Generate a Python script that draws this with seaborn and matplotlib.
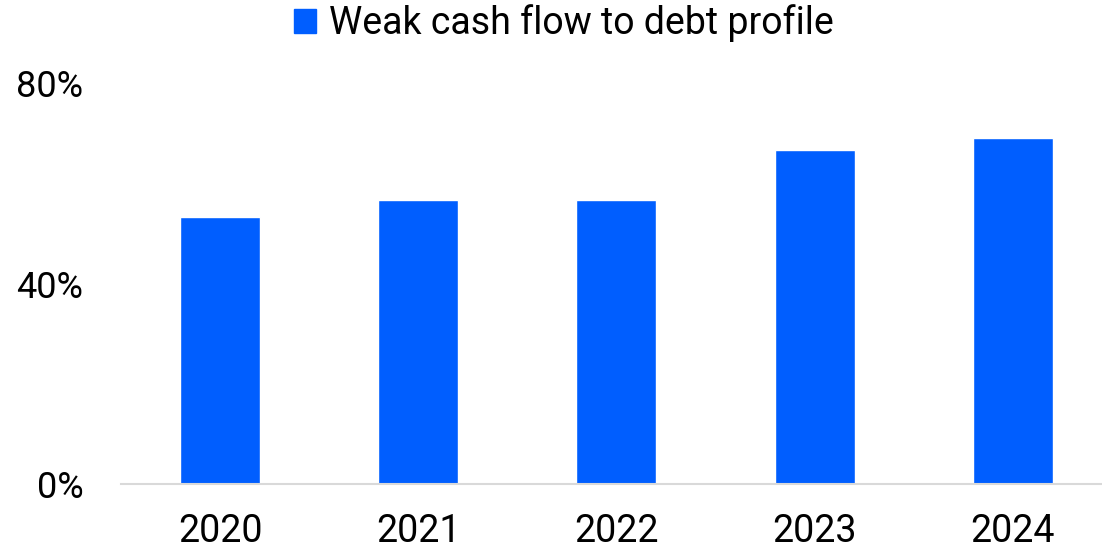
import matplotlib
matplotlib.use("Agg")
import matplotlib.pyplot as plt
import matplotlib.patches as mpatches
from matplotlib.ticker import FuncFormatter
import seaborn as sns
import pandas as pd

years = ["2020", "2021", "2022", "2023", "2024"]
weak_share = [53.3, 56.7, 56.7, 66.6, 69.0]
series_name = "Weak cash flow to debt profile"
bar_color = "#005EFF"

sns.set_theme(style="white")
plt.rcParams["font.family"] = ["Roboto", "DejaVu Sans"]
plt.rcParams["text.color"] = "#000000"

df = pd.DataFrame({"year": years, "share": weak_share})

fig = plt.figure(figsize=(11.02, 5.48), dpi=100)
ax = fig.add_axes([121 / 1102, (548 - 484) / 548, 1 - 121 / 1102, (484 - 83) / 548])

sns.barplot(data=df, x="year", y="share", color=bar_color, width=0.404,
            saturation=1, ax=ax)

ax.set_ylim(0, 80)
ax.set_xlim(-0.5, 4.45)
ax.set_yticks([0, 40, 80])
ax.yaxis.set_major_formatter(FuncFormatter(lambda v, _: f"{v:.0f}%"))
ax.set_xlabel("")
ax.set_ylabel("")

for side in ["top", "right", "left"]:
    ax.spines[side].set_visible(False)
ax.spines["bottom"].set_color("#D9D9D9")
ax.spines["bottom"].set_linewidth(1.5)

ax.tick_params(axis="y", length=0, pad=27, labelsize=26, labelcolor="#000000")
ax.tick_params(axis="x", length=0, pad=21, labelsize=27, labelcolor="#000000")

handle = mpatches.Patch(color=bar_color, label=series_name)
leg = fig.legend(handles=[handle], loc="center", bbox_to_anchor=(564 / 1102, 1 - 23 / 548),
                 frameon=False, fontsize=27, handlelength=0.6, handleheight=0.6,
                 handletextpad=0.35, borderaxespad=0)
for t in leg.get_texts():
    t.set_color("#000000")

fig.savefig("out.png", dpi=100)
